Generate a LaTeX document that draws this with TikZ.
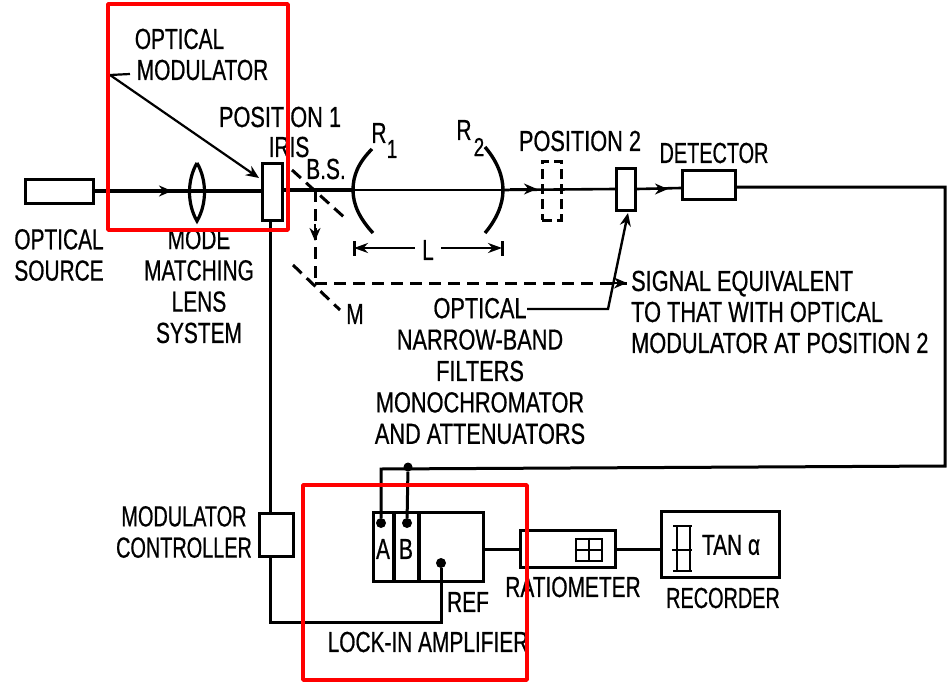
\documentclass[tikz,border=0pt]{standalone}
\usepackage{fontspec}
\usetikzlibrary{arrows.meta}
\setmainfont[FakeStretch=0.72,FakeBold=0.6]{Liberation Sans}
\newfontfamily\widefont[FakeStretch=0.75,FakeBold=0.6]{Liberation Sans}
\newfontfamily\narrowfont[FakeStretch=0.685,FakeBold=0.6]{Liberation Sans}
\tikzset{
  box/.style={draw,line width=3.4pt,inner sep=0pt,fill=none},
  beam/.style={line width=4pt},
  thinbeam/.style={line width=2.6pt},
  wire/.style={line width=3pt},
  dashline/.style={line width=3pt,dash pattern=on 12pt off 7pt},
  lab/.style={inner sep=0pt,font=\fontsize{29}{31.3}\selectfont,align=center},
  arrowed/.style={-{Stealth[length=13pt,width=11pt]}},
  blob/.style={circle,fill=black,inner sep=0pt,minimum size=10pt},
  frame/.style={draw=red,line width=3.4pt,inner sep=0pt,line join=round},
}
\begin{document}
\begin{tikzpicture}[x=1pt,y=-1pt,line cap=butt]
\useasboundingbox (0,0) rectangle (952,685);
% boxes
\node[box,minimum width=68pt,minimum height=24pt] (src) at (59.5,191.5) {};
\node[box,minimum width=20pt,minimum height=57pt] (mod) at (272.5,192) {};
\node[box,minimum width=19pt,minimum height=42pt] (pos2) at (626,189.5) {};
\node[draw,line width=3pt,dash pattern=on 10pt off 5pt,inner sep=0pt,minimum width=19pt,minimum height=59pt] (pos2d) at (551.5,190.5) {};
\node[box,minimum width=53pt,minimum height=29pt] (det) at (709,185) {};
\node[box,minimum width=34pt,minimum height=43pt] (ctrl) at (276.5,535) {};
\node[box,minimum width=110pt,minimum height=69pt] (lia) at (428.5,547) {};
\node[box,minimum width=95pt,minimum height=37pt] (ratio) at (568,549) {};
\node[box,minimum width=118pt,minimum height=66pt] (rec) at (720.5,544.5) {};
% lens
\coordinate (lt) at (197,163);
\coordinate (lb) at (197,221);
\draw[line width=3.2pt] (lt) .. controls (187,180) and (187,204) .. (lb) .. controls (207,204) and (207,180) .. (lt);
% beam
\coordinate (r1c) at (353,190);
\coordinate (r2c) at (503,190);
\coordinate (bs) at (315,190);
\draw[beam] (src.east |- 0,191) -- (mod.west |- 0,191);
\draw[beam] (mod.east |- 0,190) -- (r1c);
\draw[thinbeam] (r1c) -- (r2c);
\draw[thinbeam] (r2c) -- (pos2.west |- 0,189);
\draw[thinbeam] (pos2.east |- 0,189) -- (det.west |- 0,188);
\draw[beam,arrowed] (150,191) -- (172,191);
\draw[thinbeam,arrowed] (510,189) -- (537,189);
\draw[thinbeam,arrowed] (640,189) -- (668,189);
% mirrors
\coordinate (r1a) at (372,149);
\coordinate (r1b) at (373,233);
\coordinate (r2a) at (485,147);
\coordinate (r2b) at (485,233);
\draw[line width=3.4pt] (r1a) .. controls (358,163) and (353,176) .. (r1c) .. controls (353,205) and (360,219) .. (r1b);
\draw[line width=3.4pt] (r2a) .. controls (497,161) and (503,176) .. (r2c) .. controls (503,205) and (496,220) .. (r2b);
% beam splitter, M
\coordinate (bsa) at (292,170);
\coordinate (bsb) at (345,218);
\coordinate (ma) at (293,265);
\coordinate (mb) at (340,310);
\coordinate (mc) at (315,283);
\coordinate (ptip) at (627,283);
\draw[dashline] (bsa) -- (bsb);
\draw[dashline] (ma) -- (mb);
\draw[dashline] (bs) -- (mc);
\draw[dashline] (mc) -- (ptip);
\draw[line width=2.4pt,arrowed] (315,224) -- (315,241);
\draw[line width=2.4pt,arrowed] (600,283) -- (ptip);
% L dimension
\coordinate (la) at (354,248);
\coordinate (lc) at (502,248);
\node[lab,inner xsep=7pt] (L) at (428,250) {L};
\draw[line width=3pt] (354,241) -- (354,256);
\draw[line width=3pt] (502,241) -- (502,256);
\draw[thinbeam,{Stealth[length=14pt,width=10pt]}-] (la) -- (L.west |- la);
\draw[thinbeam,-{Stealth[length=14pt,width=10pt]}] (L.east |- lc) -- (lc);
% leaders
\coordinate (oma) at (130,74);
\coordinate (omb) at (110,75);
\coordinate (omc) at (259,178);
\draw[line width=2.2pt,arrowed] (oma) -- (omb) -- (omc);
\coordinate (ofa) at (527,309);
\coordinate (ofb) at (608,309);
\coordinate (ofc) at (628,213);
\draw[line width=2.4pt,arrowed] (ofa) -- (ofb) -- (ofc);
% wires
\coordinate (w1) at (945,187);
\coordinate (w2) at (945,466);
\coordinate (w3) at (381,469);
\node[blob,minimum size=9pt] (jn) at (408,467) {};
\node[blob] (da) at (381,523) {};
\node[blob] (db) at (407,523) {};
\node[blob] (dr) at (441,563) {};
\coordinate (w4) at (270,622);
\coordinate (w5) at (441,622);
\draw[wire] (det.east |- w1) -- (w1) -- (w2) -- (w3) -- (da);
\draw[wire] (jn) -- (db);
\draw[wire] (mod.south -| 270,0) -- (ctrl.north -| 270,0);
\draw[wire] (ctrl.south -| 270,0) -- (w4) -- (w5) -- (dr);
\draw[wire] (lia.east |- 0,549) -- (ratio.west |- 0,549);
\draw[wire] (ratio.east |- 0,549) -- (rec.west |- 0,549);
% lock-in dividers
\draw[line width=3.2pt] (394,512) -- (394,582);
\draw[line width=3.2pt] (419,512) -- (419,582);
% ratiometer symbol
\node[draw,line width=2.6pt,inner sep=0pt,minimum width=26pt,minimum height=22pt] (gr) at (589,550) {};
\draw[line width=2.6pt] (gr.north) -- (gr.south);
\draw[line width=2.6pt] (gr.west) -- (gr.east);
% recorder symbol
\draw[line width=2.4pt] (677,526) -- (677,571);
\draw[line width=2.4pt] (690,526) -- (690,571);
\draw[line width=2.4pt] (673,526) -- (692,526);
\draw[line width=2.4pt] (672,550) -- (692,550);
\draw[line width=2.4pt] (673,571) -- (692,571);
% labels
\node[lab] (t1) at (179.5,39) {OPTICAL};
\node[lab] (t2) at (202.5,70) {MODULATOR};
\node[lab] (t3) at (280,117) {\widefont POSITION 1};
\node[lab] (t4) at (289,147) {IRIS};
\node[lab] (t5) at (326,169) {B.S.};
\node[lab] (t6) at (379,133) {R};
\node[lab,font=\fontsize{26}{30}\selectfont] (t7) at (392,149) {1};
\node[lab] (t8) at (464,130) {R};
\node[lab,font=\fontsize{26}{30}\selectfont] (t9) at (479,147) {2};
\node[lab] (t10) at (580,141) {\widefont POSITION 2};
\node[lab] (t11) at (714,153) {\narrowfont DETECTOR};
\node[lab] (t12) at (59,255) {OPTICAL\\SOURCE};
\node[lab] (t13) at (199,286) {MODE\\MATCHING\\LENS\\SYSTEM};
\node[lab] (t14) at (355,314) {M};
\node[lab,align=left,anchor=west,font=\fontsize{29}{31}\selectfont\widefont] (t15) at (631,312) {SIGNAL EQUIVALENT\\TO THAT WITH OPTICAL\\MODULATOR AT POSITION 2};
\node[lab,font=\fontsize{29}{31.4}\selectfont\widefont] (t16) at (480,371) {OPTICAL\\NARROW-BAND\\FILTERS\\MONOCHROMATOR\\AND ATTENUATORS};
\node[lab,font=\fontsize{29}{31.3}\selectfont\narrowfont] (t17) at (184,532) {MODULATOR\\CONTROLLER};
\node[lab] (t18) at (383,549) {A};
\node[lab] (t19) at (406,549) {B};
\node[lab] (t20) at (468,602) {REF};
\node[lab] (t21) at (428,642) {LOCK-IN AMPLIFIER};
\node[lab] (t22) at (573,587) {RATIOMETER};
\node[lab] (t23) at (723,598) {\narrowfont RECORDER};
\node[lab] (t24) at (731,545) {TAN α};
% red frames
\node[frame,minimum width=180pt,minimum height=226pt] (f1) at (198,117) {};
\node[frame,minimum width=224pt,minimum height=195pt] (f2) at (415,582.5) {};
\end{tikzpicture}
\end{document}
